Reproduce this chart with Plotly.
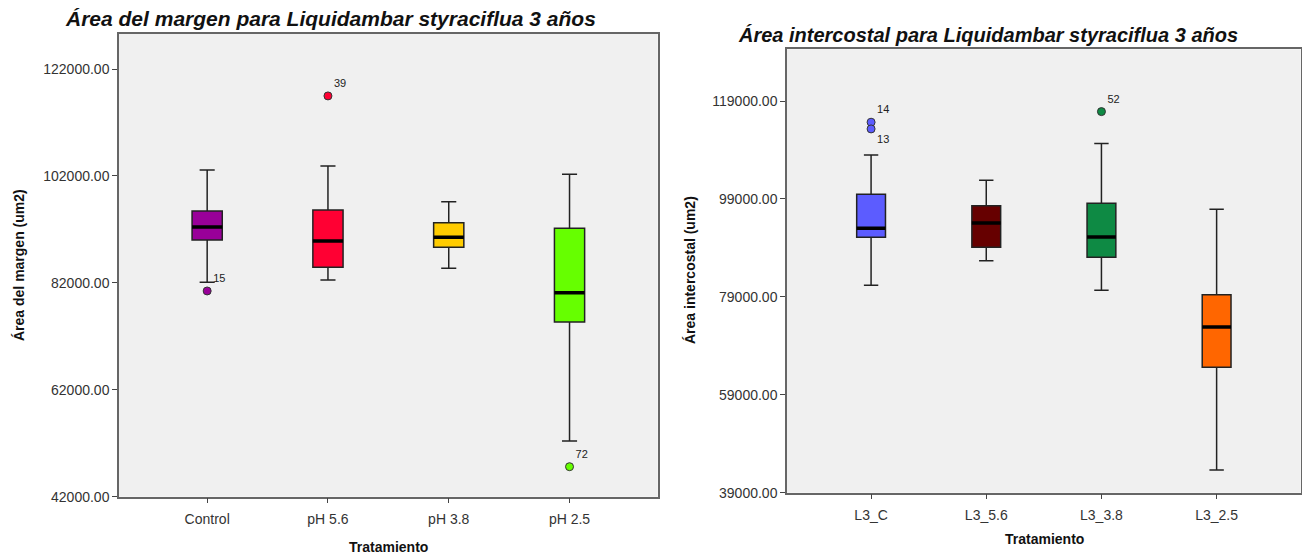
import plotly.graph_objects as go

# ---------------- data ----------------
left_cats = ["Control", "pH 5.6", "pH 3.8", "pH 2.5"]
left_colors = ["#990099", "#ff0033", "#ffcc00", "#66ff00"]
left_lower = [82112, 82543, 84732, 52421]
left_q1 = [90026, 84919, 88660, 74685]
left_median = [92458, 89839, 90531, 80166]
left_q3 = [95451, 95639, 93263, 92215]
left_upper = [103122, 103871, 97192, 102318]
left_out_cat = [0, 1, 3]
left_out_val = [80484, 116967, 47613]
left_out_lab = ["15", "39", "72"]

right_cats = ["L3_C", "L3_5.6", "L3_3.8", "L3_2.5"]
right_colors = ["#5c5cff", "#660000", "#0e8a44", "#ff6600"]
right_lower = [81370, 86395, 80348, 43637]
right_q1 = [91176, 89133, 87090, 64618]
right_median = [93015, 94097, 91237, 72851]
right_q3 = [99960, 97631, 98121, 79449]
right_upper = [107989, 102799, 110297, 96896]
right_out_cat = [0, 0, 2]
right_out_val = [114670, 113303, 116835]
right_out_lab = ["14", "13", "52"]
right_out_pos = ["top right", "bottom right", "top right"]

left_ticks = [42000, 62000, 82000, 102000, 122000]
right_ticks = [39000, 59000, 79000, 99000, 119000]

BOXW = 0.25
FONT = "Liberation Sans, Arial, sans-serif"

fig = go.Figure()


def add_panel(cats, colors, lower, q1, med, q3, upper, oc, ov, ol, opos, xa, ya):
    for i, c in enumerate(cats):
        fig.add_trace(go.Box(
            x=[i], q1=[q1[i]], median=[med[i]], q3=[q3[i]],
            lowerfence=[lower[i]], upperfence=[upper[i]],
            fillcolor=colors[i], line=dict(color="#222222", width=1.5),
            width=BOXW, whiskerwidth=0.5, boxpoints=False,
            xaxis=xa, yaxis=ya, showlegend=False, hoverinfo="skip",
        ))
        fig.add_trace(go.Scatter(
            x=[i - BOXW / 2, i + BOXW / 2], y=[med[i], med[i]],
            mode="lines", line=dict(color="#000000", width=3.5),
            xaxis=xa, yaxis=ya, showlegend=False, hoverinfo="skip",
        ))
    for k in range(len(ov)):
        fig.add_trace(go.Scatter(
            x=[oc[k]], y=[ov[k]], mode="markers+text",
            text=[ol[k]], textposition=opos[k],
            textfont=dict(family=FONT, size=11, color="#222222"),
            marker=dict(size=8, color=colors[oc[k]], line=dict(color="#333333", width=1)),
            xaxis=xa, yaxis=ya, showlegend=False, hoverinfo="skip",
        ))


add_panel(left_cats, left_colors, left_lower, left_q1, left_median, left_q3, left_upper,
          left_out_cat, left_out_val, left_out_lab, ["top right"] * 3, "x", "y")
add_panel(right_cats, right_colors, right_lower, right_q1, right_median, right_q3, right_upper,
          right_out_cat, right_out_val, right_out_lab, right_out_pos, "x2", "y2")

W, H = 1302, 556
HE = 548  # effective rendered height used for vertical placement


def yf(px):
    return 1 - px / HE


axis_common = dict(showgrid=False, zeroline=False, showline=True, mirror=True,
                   linecolor="#666666", linewidth=1.5, ticks="outside", ticklen=5,
                   tickcolor="#444444", tickfont=dict(family=FONT, size=14, color="#333333"))

fig.update_layout(
    width=W, height=H, margin=dict(l=0, r=0, t=0, b=0),
    paper_bgcolor="white", plot_bgcolor="#f0f0f0",
    xaxis=dict(domain=[119 / W, 657.7 / W], range=[-0.73, 3.73], ticklabelstandoff=4,
               tickvals=list(range(len(left_cats))), ticktext=left_cats, **axis_common),
    yaxis=dict(domain=[yf(496.7), yf(34)], range=[42000, 128548],
               tickvals=left_ticks, tickformat=".2f", **axis_common),
    xaxis2=dict(domain=[787 / W, 1300.7 / W], range=[-0.73, 3.73], anchor="y2", ticklabelstandoff=4,
                tickvals=list(range(len(right_cats))), ticktext=right_cats, **axis_common),
    yaxis2=dict(domain=[yf(492.7), yf(49.3)], range=[39000, 129562], anchor="x2",
                tickvals=right_ticks, tickformat=".2f", **axis_common),
)

title_font_l = dict(family="Liberation Sans, Arial, sans-serif", size=21, color="#111111")
title_font_r = dict(family="Liberation Sans, Arial, sans-serif", size=20, color="#111111")
lab_font = dict(family=FONT, size=14, color="#111111")
ann = [
    dict(text="<b><i>Área del margen para Liquidambar styraciflua 3 años</i></b>",
         x=331 / W, y=yf(18), font=title_font_l),
    dict(text="<b><i>Área intercostal para Liquidambar styraciflua 3 años</i></b>",
         x=988 / W, y=yf(35), font=title_font_r),
    dict(text="<b>Tratamiento</b>", x=388 / W, y=yf(547), font=lab_font),
    dict(text="<b>Tratamiento</b>", x=1044 / W, y=yf(539), font=lab_font),
    dict(text="<b>Área del margen (um2)</b>", x=19 / W, y=yf(265), textangle=-90, font=lab_font),
    dict(text="<b>Área intercostal (um2)</b>", x=690 / W, y=yf(270), textangle=-90, font=lab_font),
]
for a in ann:
    a.update(xref="paper", yref="paper", xanchor="center", yanchor="middle", showarrow=False)
fig.update_layout(annotations=ann)

fig.write_html("out.html")
